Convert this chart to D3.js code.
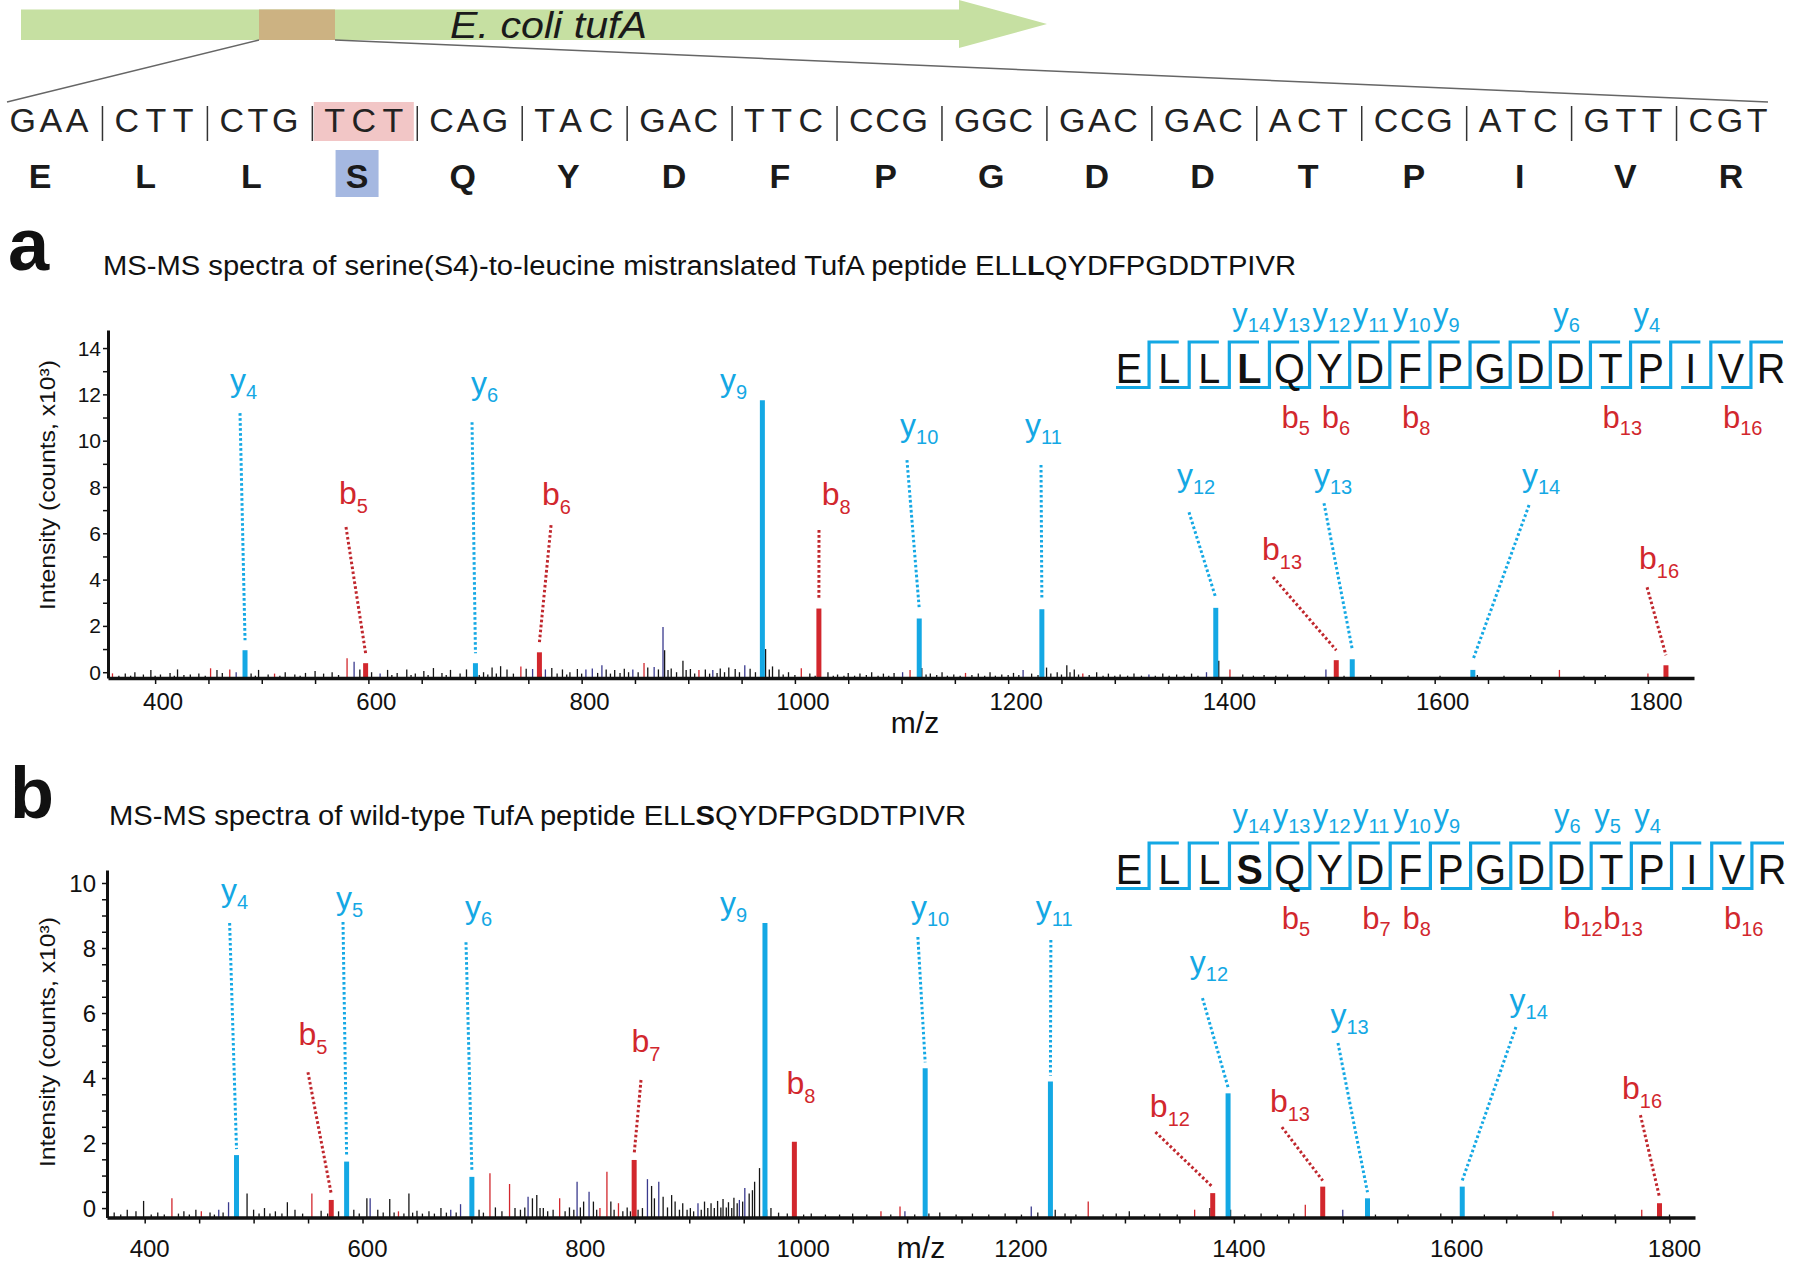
<!DOCTYPE html>
<html><head><meta charset="utf-8">
<script src="https://cdn.jsdelivr.net/npm/d3@7"></script>
<style>
html,body{margin:0;padding:0;background:#fff;}
svg{display:block;font-family:"Liberation Sans",Arial,Helvetica,sans-serif;}
</style></head><body>
<svg id="fig" width="1800" height="1273"></svg>
<script>
// ---------------- DATA ----------------
const codons = ["GAA","CTT","CTG","TCT","CAG","TAC","GAC","TTC","CCG","GGC","GAC","GAC","ACT","CCG","ATC","GTT","CGT"];
const aminoAcids = ["E","L","L","S","Q","Y","D","F","P","G","D","D","T","P","I","V","R"];
const mutatedIndex = 3;
const geneName = "E. coli tufA";

const peptideA = ["E","L","L","L","Q","Y","D","F","P","G","D","D","T","P","I","V","R"];
const peptideB = ["E","L","L","S","Q","Y","D","F","P","G","D","D","T","P","I","V","R"];
const yIonsSeqA = [14,13,12,11,10,9,6,4];
const bIonsSeqA = [5,6,8,13,16];
const yIonsSeqB = [14,13,12,11,10,9,6,5,4];
const bIonsSeqB = [5,7,8,12,13,16];

const titleA = ["MS-MS spectra of serine(S4)-to-leucine mistranslated TufA peptide ELL","L","QYDFPGDDTPIVR"];
const titleB = ["MS-MS spectra of wild-type TufA peptide ELL","S","QYDFPGDDTPIVR"];

const xTickLabels = [400,600,800,1000,1200,1400,1600,1800];
const yTickLabelsA = [0,2,4,6,8,10,12,14];
const yTickLabelsB = [0,2,4,6,8,10];

// labelled peaks: [ion, n, m/z, intensity, label m/z, label intensity, line-top m/z, line-top intensity]
const ionsA = [
 ["y",4,484.3,0.95,470.2,12.14,479.6,11.19],
 ["b",5,597.4,0.39,572.5,7.26,579.0,6.27],
 ["y",6,700.4,0.39,696.2,12.01,697.2,10.80],
 ["b",6,760.4,0.86,762.8,7.22,771.3,6.35],
 ["y",9,969.5,11.75,929.8,12.14,null,null],
 ["b",8,1022.5,2.75,1025.2,7.22,1022.6,6.14],
 ["y",10,1116.6,2.32,1098.6,10.20,1105.1,9.16],
 ["y",11,1231.6,2.72,1215.8,10.20,1230.8,8.95],
 ["y",12,1394.7,2.78,1358.3,8.04,1369.6,6.91],
 ["b",13,1507.7,0.52,1438.1,4.84,1448.4,4.11],
 ["y",13,1522.7,0.56,1486.8,8.04,1496.2,7.30],
 ["y",14,1635.8,0.10,1681.9,8.04,1688.5,7.22],
 ["b",16,1816.9,0.30,1791.6,4.45,1799.2,3.67]
];
const ionsB = [
 ["y",4,484.3,1.63,470.1,9.45,478.0,8.77],
 ["b",5,571.3,0.25,541.2,5.02,549.9,4.18],
 ["y",5,585.4,1.43,575.6,9.20,582.1,8.80],
 ["y",6,700.4,0.96,694.1,8.92,695.0,8.18],
 ["b",7,849.4,1.48,847.0,4.80,855.7,3.94],
 ["y",9,969.5,8.77,928.2,9.05,null,null],
 ["b",8,996.5,2.04,989.3,3.51,null,null],
 ["y",10,1116.6,4.30,1103.5,8.92,1109.9,8.34],
 ["y",11,1231.6,3.89,1218.2,8.92,1232.0,8.25],
 ["b",12,1380.6,0.46,1322.9,2.80,1328.0,2.34],
 ["y",12,1394.7,3.53,1359.6,7.23,1371.2,6.46],
 ["b",13,1481.6,0.66,1433.1,2.95,1444.1,2.49],
 ["y",13,1522.7,0.30,1488.7,5.60,1495.6,5.08],
 ["y",14,1609.7,0.66,1653.2,6.06,1659.0,5.57],
 ["b",16,1790.8,0.15,1756.4,3.35,1773.3,2.86]
];

// unlabelled peaks: [m/z, intensity (read on the tick scale; the axis line sits just below 0), kind] k=black n=navy r=red
const noiseA = [[360,-0.05,"r"],[366,-0.15,"k"],[372,-0.06,"k"],[377,-0.15,"k"],[381,0.0,"k"],[389,-0.1,"k"],[396,0.1,"k"],[400,-0.15,"k"],[405,-0.1,"k"],[414,-0.03,"k"],[418,-0.15,"k"],[421,0.12,"k"],[427,-0.12,"k"],[433,-0.1,"k"],[441,-0.06,"k"],[447,-0.15,"k"],[452,0.17,"r"],[458,0.1,"k"],[463,-0.03,"k"],[470,0.12,"r"],[476,0.0,"n"],[490,-0.06,"k"],[494,-0.15,"k"],[497,0.1,"k"],[506,-0.1,"k"],[512,-0.06,"r"],[517,-0.15,"k"],[522,0.0,"k"],[531,-0.1,"k"],[536,-0.15,"k"],[541,-0.03,"k"],[550,0.05,"k"],[558,-0.06,"k"],[566,0.0,"k"],[572,-0.12,"k"],[580,0.6,"r"],[586.6,0.45,"n"],[592,0.12,"k"],[598,-0.12,"k"],[603,0.0,"k"],[611,-0.06,"n"],[618,0.1,"k"],[622,-0.12,"k"],[627,-0.03,"k"],[636,0.12,"k"],[640,-0.12,"k"],[644,-0.06,"k"],[652,0.05,"k"],[656,-0.12,"k"],[661,0.18,"k"],[669,-0.03,"k"],[673,-0.12,"k"],[677,0.1,"k"],[686,-0.06,"k"],[692,0.12,"k"],[704,-0.12,"k"],[708,0.0,"k"],[712,-0.1,"k"],[716,0.2,"k"],[720,-0.06,"k"],[724,0.26,"k"],[730,0.12,"k"],[736,-0.06,"k"],[743,0.25,"r"],[748,0.15,"k"],[754,0.14,"n"],[762,-0.06,"k"],[766,0.12,"n"],[772,0.18,"k"],[777,-0.06,"k"],[782,0.12,"k"],[786,-0.1,"k"],[789,0.0,"k"],[796,0.14,"k"],[800,-0.06,"k"],[804,0.12,"n"],[810,0.16,"n"],[815,-0.03,"k"],[819,0.3,"n"],[823,0.12,"k"],[827,-0.06,"k"],[831,0.1,"k"],[836,-0.03,"k"],[840,0.15,"k"],[844,0.0,"k"],[848,0.12,"n"],[853,0.0,"k"],[858.5,0.4,"r"],[862,0.2,"k"],[868,0.22,"n"],[872,0.12,"k"],[876.3,1.95,"n"],[877.8,0.95,"k"],[881,0.1,"k"],[884,0.16,"k"],[889,0.0,"k"],[895,0.5,"k"],[898,0.1,"k"],[902,0.14,"k"],[906,-0.06,"k"],[910,0.1,"r"],[916,0.12,"k"],[920,-0.06,"k"],[923,0.1,"n"],[927,-0.03,"k"],[930,0.16,"k"],[934,0.0,"k"],[938,0.2,"k"],[944,0.14,"k"],[948,0.0,"k"],[953,0.3,"n"],[958,0.15,"k"],[963,0.0,"k"],[972.5,1.0,"k"],[976,0.12,"k"],[979,0.25,"k"],[985,0.12,"k"],[989,-0.1,"k"],[994,0.0,"k"],[1000,-0.12,"k"],[1006,0.17,"r"],[1014,-0.06,"k"],[1019,-0.15,"k"],[1031,0.0,"k"],[1036,-0.15,"k"],[1040,-0.1,"k"],[1046,-0.15,"k"],[1050,-0.03,"k"],[1056,-0.15,"k"],[1061,-0.06,"k"],[1067,-0.12,"k"],[1072,0.0,"k"],[1078,-0.15,"k"],[1083,-0.06,"k"],[1088,-0.15,"k"],[1093,-0.03,"k"],[1101,0.0,"n"],[1108,0.1,"r"],[1119,0.18,"k"],[1123,-0.1,"k"],[1127,-0.06,"k"],[1133,-0.12,"k"],[1138,0.0,"k"],[1143,-0.15,"k"],[1149,-0.1,"k"],[1155,-0.15,"k"],[1160,-0.03,"r"],[1166,-0.12,"k"],[1172,-0.06,"k"],[1178,-0.15,"k"],[1183,0.0,"k"],[1188,-0.15,"k"],[1194,-0.1,"k"],[1200,-0.12,"k"],[1205,-0.03,"k"],[1210,-0.12,"k"],[1214,0.1,"n"],[1222,-0.06,"k"],[1228,-0.12,"k"],[1236,0.2,"k"],[1240,-0.06,"k"],[1246,0.0,"k"],[1250,-0.1,"k"],[1255,0.3,"k"],[1258,0.0,"k"],[1262,0.12,"k"],[1266,-0.1,"k"],[1270,-0.06,"r"],[1276,-0.12,"k"],[1283,0.0,"k"],[1289,-0.15,"k"],[1294,-0.06,"k"],[1300,-0.15,"k"],[1305,-0.1,"k"],[1312,-0.15,"k"],[1318,-0.06,"k"],[1325,-0.15,"k"],[1332,-0.1,"n"],[1338,-0.15,"k"],[1345,-0.06,"k"],[1351,-0.15,"k"],[1358,-0.1,"k"],[1365,-0.15,"k"],[1372,-0.06,"k"],[1378,-0.15,"k"],[1386,0.0,"n"],[1397.5,0.5,"k"],[1408,0.12,"r"],[1420,-0.1,"k"],[1430,-0.15,"k"],[1440,-0.12,"k"],[1451,-0.15,"k"],[1462,-0.1,"k"],[1478,-0.15,"k"],[1498,0.12,"n"],[1515,-0.15,"k"],[1540,-0.12,"k"],[1575,-0.15,"k"],[1605,-0.15,"k"],[1640,-0.12,"k"],[1665,-0.15,"k"],[1690,-0.12,"k"],[1717,0.1,"r"],[1740,-0.15,"k"],[1760,-0.12,"k"],[1800,-0.06,"r"]];
const noiseB = [[372,-0.14,"k"],[378,-0.2,"k"],[384,-0.05,"k"],[392,-0.1,"k"],[399,0.22,"k"],[406,-0.2,"k"],[412,-0.14,"k"],[418,-0.2,"k"],[425,0.3,"r"],[431,-0.17,"k"],[436,-0.1,"k"],[441,-0.2,"k"],[447,-0.05,"k"],[452,-0.1,"r"],[460,-0.14,"k"],[464,-0.2,"k"],[468,-0.05,"n"],[472,-0.14,"k"],[477,0.18,"n"],[494,0.45,"k"],[500,-0.05,"k"],[505,-0.17,"k"],[510,0.0,"k"],[515,-0.17,"k"],[520,-0.1,"k"],[526,-0.17,"k"],[531,0.18,"k"],[538,-0.05,"k"],[545,-0.17,"k"],[553.5,0.45,"r"],[562,-0.08,"k"],[568,-0.17,"k"],[578,-0.1,"k"],[592,-0.05,"k"],[597,-0.17,"k"],[604,0.3,"k"],[607,0.3,"n"],[614,-0.05,"k"],[619,-0.14,"k"],[625,0.28,"k"],[629,-0.14,"k"],[633,-0.1,"r"],[638,-0.17,"k"],[642.6,0.45,"k"],[646,-0.14,"k"],[650,-0.08,"k"],[655,-0.17,"k"],[661,-0.1,"k"],[666,-0.17,"k"],[672,0.0,"k"],[677,-0.14,"k"],[681,-0.05,"n"],[686,-0.14,"k"],[690,0.12,"n"],[707,-0.05,"k"],[711,-0.14,"k"],[717,1.07,"r"],[722,0.02,"k"],[728,-0.1,"k"],[735,0.74,"r"],[740,0.0,"k"],[745,-0.05,"k"],[749,0.02,"k"],[752,0.35,"n"],[756,0.3,"k"],[760,0.4,"k"],[763,0.0,"k"],[766,0.0,"k"],[770,-0.1,"k"],[775,-0.05,"k"],[781,0.3,"r"],[786,-0.1,"k"],[790,0.02,"k"],[794,-0.05,"k"],[797,0.81,"n"],[800,0.02,"k"],[803,0.2,"k"],[808,0.5,"n"],[812,0.2,"k"],[815,-0.05,"k"],[818,0.0,"r"],[824.4,1.12,"r"],[828,0.2,"k"],[831,-0.05,"k"],[835,0.15,"r"],[839,-0.1,"k"],[843,0.02,"k"],[846,-0.1,"k"],[853,-0.05,"k"],[857,0.0,"k"],[861.6,0.89,"n"],[865.4,0.68,"k"],[868,0.3,"k"],[872,0.81,"n"],[876,0.35,"k"],[880,0.02,"k"],[883.8,0.4,"k"],[887,0.2,"k"],[891,-0.05,"k"],[894,0.15,"k"],[898,-0.05,"k"],[901,0.0,"k"],[904,-0.1,"k"],[908,0.15,"n"],[911,-0.05,"k"],[914,0.2,"k"],[917,0.0,"k"],[920,0.15,"k"],[923,0.0,"k"],[926,0.22,"k"],[929,0.02,"k"],[931,0.28,"k"],[934,0.02,"k"],[936,0.18,"k"],[939,0.0,"k"],[941,0.32,"k"],[944,0.15,"k"],[946,0.25,"n"],[949,0.2,"k"],[951,0.62,"n"],[955,0.45,"k"],[958,0.55,"k"],[960,0.81,"k"],[964.5,1.23,"k"],[971,-0.05,"k"],[975,0.0,"k"],[982,-0.14,"k"],[990,-0.17,"k"],[1005,-0.2,"k"],[1012,-0.17,"k"],[1025,-0.2,"k"],[1038,-0.2,"k"],[1050,-0.17,"k"],[1063,-0.2,"k"],[1076,-0.1,"r"],[1085,-0.2,"k"],[1093.5,0.05,"r"],[1098,-0.1,"n"],[1107,-0.2,"k"],[1120,-0.17,"k"],[1130,-0.14,"k"],[1145,-0.2,"k"],[1160,-0.17,"k"],[1175,-0.2,"k"],[1190,-0.17,"k"],[1205,-0.2,"k"],[1214,0.05,"n"],[1220,-0.14,"k"],[1236,-0.05,"k"],[1245,-0.17,"k"],[1255,-0.2,"k"],[1266.3,0.2,"r"],[1280,-0.2,"k"],[1292,-0.17,"k"],[1304,-0.1,"k"],[1318,-0.2,"k"],[1332,-0.17,"k"],[1348,-0.2,"k"],[1364,-0.05,"r"],[1378,0.0,"k"],[1397,-0.05,"k"],[1410,-0.2,"k"],[1425,-0.17,"k"],[1440,-0.2,"k"],[1455,-0.17,"k"],[1465.6,0.1,"r"],[1500,-0.05,"n"],[1530,-0.2,"k"],[1560,-0.2,"k"],[1590,-0.17,"k"],[1630,-0.2,"k"],[1660,-0.2,"k"],[1693,-0.1,"r"],[1720,-0.2,"k"],[1750,-0.2,"k"],[1774.5,-0.05,"r"],[1800,-0.2,"k"]];

// ---------------- STYLE ----------------
const BLUE = "#14a8e4", RED = "#d2272d", NAVY = "#3a3a8e", BLACK = "#151515";
const kindColor = {k: BLACK, n: NAVY, r: RED};
const svg = d3.select("#fig");

// ---------------- GENE + CODONS ----------------
const geneG = svg.append("g");
const geneX = d3.scaleLinear().domain([0, 1]).range([21, 959]);
geneG.append("path")
  .attr("d", `M${geneX(0)},9.5 H${geneX(1)} V0 L1047,24 L${geneX(1)},48 V40 H${geneX(0)} Z`)
  .attr("fill", "#c6e0a2");
geneG.append("rect").attr("x", 259).attr("y", 9.5).attr("width", 76).attr("height", 30.5).attr("fill", "#ccb282");
geneG.append("text").attr("x", 450).attr("y", 38).attr("font-style", "italic").attr("font-size", 36)
  .attr("textLength", 197).attr("lengthAdjust", "spacingAndGlyphs").attr("fill", "#1a1a1a").text(geneName);
geneG.append("line").attr("x1", 259).attr("y1", 40).attr("x2", 7).attr("y2", 102).attr("stroke", "#666").attr("stroke-width", 1.4);
geneG.append("line").attr("x1", 335).attr("y1", 40).attr("x2", 1768).attr("y2", 102).attr("stroke", "#666").attr("stroke-width", 1.4);

const codonX = d3.scalePoint().domain(d3.range(codons.length)).range([49, 1728]);
const aaX = d3.scalePoint().domain(d3.range(aminoAcids.length)).range([40, 1731]);
geneG.append("rect").attr("x", codonX(mutatedIndex) - 50).attr("y", 102).attr("width", 100).attr("height", 39).attr("fill", "#f2c6c6");
geneG.append("rect").attr("x", aaX(mutatedIndex) - 21.5).attr("y", 150).attr("width", 43).attr("height", 47).attr("fill", "#a5b8e1");
geneG.selectAll("text.codon").data(codons).join("text").attr("class", "codon")
  .attr("x", (d, i) => codonX(i)).attr("y", 132).attr("text-anchor", "middle")
  .attr("font-size", 34).attr("textLength", 79).attr("lengthAdjust", "spacing").attr("fill", "#222").text(d => d);
geneG.selectAll("line.pipe").data(d3.range(codons.length - 1)).join("line").attr("class", "pipe")
  .attr("x1", i => (codonX(i) + codonX(i + 1)) / 2 + 1).attr("x2", i => (codonX(i) + codonX(i + 1)) / 2 + 1)
  .attr("y1", 106).attr("y2", 141).attr("stroke", "#333").attr("stroke-width", 1.5);
geneG.selectAll("text.aa").data(aminoAcids).join("text").attr("class", "aa")
  .attr("x", (d, i) => aaX(i)).attr("y", 188).attr("text-anchor", "middle")
  .attr("font-size", 34).attr("font-weight", "bold").attr("fill", "#1a1a1a").text(d => d);

// ---------------- HELPERS ----------------
function ionLabel(g, x, y, ion, n, color, fs, subFs, subDy) {
  const t = g.append("text").attr("x", x).attr("y", y).attr("fill", color).attr("font-size", fs);
  t.append("tspan").text(ion);
  t.append("tspan").attr("dy", subDy).attr("font-size", subFs).text(n);
  return t;
}

function drawPeptide(g, seq, boldIdx, yIons, bIons, x0, x1, base) {
  const fs = 43, sx = 0.92;
  const px = d3.scalePoint().domain(d3.range(seq.length)).range([x0, x1]);
  const cx = seq.map((c, i) => px(i));
  const gx = d3.range(seq.length - 1).map(i => (cx[i] + cx[i + 1]) / 2);
  const yt = base - 41, yb = base + 4.5;
  gx.forEach((xg, i) => {
    const left = i === 0 ? cx[0] - 13 : xg - (xg - gx[i - 1]) * 0.74;
    const right = i === gx.length - 1 ? cx[seq.length - 1] + 12 : xg + (gx[i + 1] - xg) * 0.74;
    g.append("path").attr("d", `M${left},${yb} H${xg} V${yt} H${right}`)
      .attr("fill", "none").attr("stroke", BLUE).attr("stroke-width", 3.2);
  });
  seq.forEach((c, i) => {
    g.append("text").attr("transform", `translate(${cx[i]},${base}) scale(${sx},1)`)
      .attr("text-anchor", "middle").attr("font-size", fs).attr("font-weight", i === boldIdx ? "bold" : "normal")
      .attr("fill", "#111").text(c);
  });
  yIons.forEach(n => {
    const xg = gx[seq.length - 1 - n];
    ionLabel(g, xg + 3, base - 58, "y", n, BLUE, 31, 20, 7);
  });
  bIons.forEach(n => {
    const xg = gx[n - 1];
    ionLabel(g, xg - 28, base + 45, "b", n, RED, 31, 20, 7);
  });
}

function drawPanel(cfg) {
  const g = svg.append("g");
  const x = d3.scaleLinear().domain(cfg.xDomain).range(cfg.xRange);
  const y = d3.scaleLinear().domain(cfg.yDomain).range(cfg.yRange);
  const y0 = cfg.yRange[0];
  g.append("text").attr("x", cfg.letterX).attr("y", cfg.letterY).attr("font-size", cfg.letterFs)
    .attr("font-weight", "bold").attr("fill", "#111").text(cfg.letter);
  const tt = g.append("text").attr("x", cfg.titleX).attr("y", cfg.titleY).attr("font-size", 27).attr("fill", "#111")
    .attr("textLength", cfg.titleLen).attr("lengthAdjust", "spacingAndGlyphs");
  cfg.title.forEach((s, i) => tt.append("tspan").attr("font-weight", i === 1 ? "bold" : "normal").text(s));

  g.selectAll("line.noise").data(cfg.noise).join("line").attr("class", "noise")
    .attr("x1", d => x(d[0])).attr("x2", d => x(d[0]))
    .attr("y1", y0).attr("y2", d => y(d[1]))
    .attr("stroke", d => kindColor[d[2]]).attr("stroke-width", 1.3);
  g.selectAll("line.ion").data(cfg.ions).join("line").attr("class", "ion")
    .attr("x1", d => x(d[2])).attr("x2", d => x(d[2]))
    .attr("y1", y0).attr("y2", d => y(d[3]))
    .attr("stroke", d => d[0] === "y" ? BLUE : RED).attr("stroke-width", 5);
  g.selectAll("line.lead").data(cfg.ions.filter(d => d[6] !== null)).join("line").attr("class", "lead")
    .attr("x1", d => x(d[6])).attr("y1", d => y(d[7]))
    .attr("x2", d => x(d[2])).attr("y2", d => y(d[3]) - cfg.leadGap)
    .attr("stroke", d => d[0] === "y" ? BLUE : "#c0272d").attr("stroke-width", 3)
    .attr("stroke-dasharray", "2.6,2.4");
  cfg.ions.forEach(d => {
    ionLabel(g, x(d[4]), y(d[5]), d[0], d[1], d[0] === "y" ? BLUE : RED, 32, 20, d[0] === "y" ? 8 : 9);
  });

  const yAx = d3.axisLeft(y).tickValues(cfg.yMinor).tickSize(5).tickSizeOuter(0).tickFormat("");
  const ga = g.append("g").attr("transform", `translate(${cfg.xRange[0]},0)`).call(yAx);
  ga.select(".domain").attr("stroke", "#111").attr("stroke-width", 3);
  ga.selectAll(".tick line").attr("stroke", "#111").attr("stroke-width", 1.5);
  g.selectAll("text.ytl").data(cfg.yTicks).join("text").attr("class", "ytl")
    .attr("x", cfg.yLabelRight).attr("y", d => y(d)).attr("dy", "0.36em").attr("text-anchor", "end")
    .attr("font-size", cfg.yTickFs).attr("fill", "#111").text(d => d);
  const xAx = d3.axisBottom(x).tickValues(d3.range(400, 1801, 50)).tickSize(6).tickSizeOuter(0).tickFormat("");
  const gb = g.append("g").attr("transform", `translate(0,${y0})`).call(xAx);
  gb.select(".domain").attr("stroke", "#111").attr("stroke-width", 3.5);
  gb.selectAll(".tick line").attr("stroke", "#111").attr("stroke-width", 1.5);
  g.selectAll("text.xtl").data(xTickLabels).join("text").attr("class", "xtl")
    .attr("x", d => x(d) + cfg.xLabelDx).attr("y", cfg.xLabelY).attr("text-anchor", "middle")
    .attr("font-size", 24).attr("fill", "#111").text(d => d);
  g.append("text").attr("x", cfg.mzX).attr("y", cfg.mzY).attr("text-anchor", "middle")
    .attr("font-size", 30).attr("fill", "#111").text("m/z");
  g.append("text").attr("transform", `translate(${cfg.yTitleX},${cfg.yTitleY}) rotate(-90)`)
    .attr("text-anchor", "middle").attr("font-size", 22).attr("fill", "#111")
    .attr("textLength", 250).attr("lengthAdjust", "spacingAndGlyphs").text("Intensity (counts, x10³)");

  drawPeptide(g, cfg.pep, 3, cfg.yIonsSeq, cfg.bIonsSeq, cfg.pepX0, cfg.pepX1, cfg.pepBase);
}

drawPanel({
  letter: "a", letterX: 8, letterY: 270, letterFs: 74,
  title: titleA, titleX: 103, titleY: 275, titleLen: 1193,
  xDomain: [355.8, 1843.2], xRange: [108, 1694],
  yDomain: [-0.25, 14.78], yRange: [678, 330],
  yMinor: d3.range(0, 15, 1), yTicks: yTickLabelsA, yLabelRight: 101, yTickFs: 21,
  xLabelDx: 8, xLabelY: 710, mzX: 915, mzY: 733,
  yTitleX: 55, yTitleY: 485,
  noise: noiseA, ions: ionsA, leadGap: 10,
  pep: peptideA, yIonsSeq: yIonsSeqA, bIonsSeq: bIonsSeqA, pepX0: 1129, pepX1: 1771, pepBase: 383
});
drawPanel({
  letter: "b", letterX: 10, letterY: 818, letterFs: 72,
  title: titleB, titleX: 109, titleY: 825, titleLen: 857,
  xDomain: [365.4, 1823.4], xRange: [107, 1695],
  yDomain: [-0.29, 10.4], yRange: [1217.5, 870],
  yMinor: d3.range(0, 10.01, 0.5), yTicks: yTickLabelsB, yLabelRight: 96, yTickFs: 24,
  xLabelDx: 5, xLabelY: 1257, mzX: 921, mzY: 1258,
  yTitleX: 55, yTitleY: 1042,
  noise: noiseB, ions: ionsB, leadGap: 6,
  pep: peptideB, yIonsSeq: yIonsSeqB, bIonsSeq: bIonsSeqB, pepX0: 1129, pepX1: 1772, pepBase: 884
});
</script>
</body></html>
